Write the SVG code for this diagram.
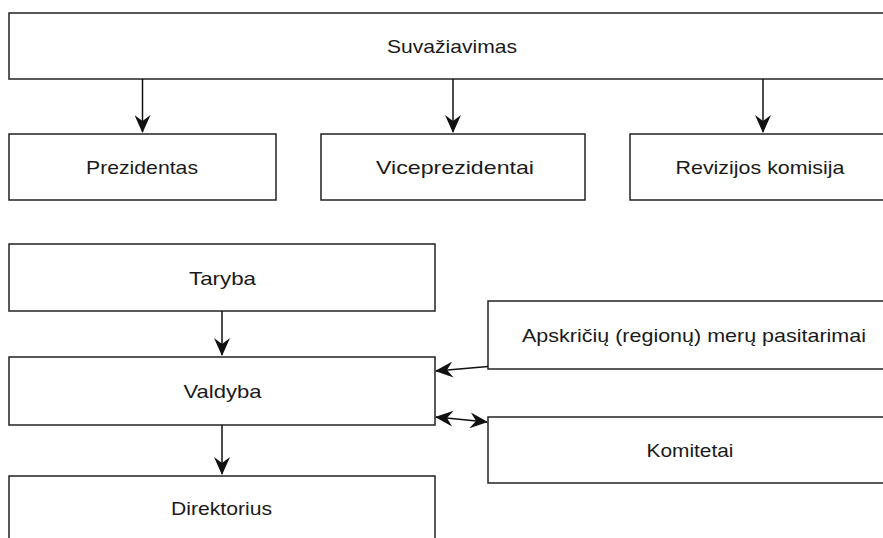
<svg xmlns="http://www.w3.org/2000/svg" width="883" height="538" viewBox="0 0 883 538">
<style>
.box{fill:#fff;stroke:#222;stroke-width:1.5}
.lbl{font-family:"Liberation Sans",Arial,sans-serif;font-size:19px;fill:#1a1a1a;text-anchor:middle}
.con{stroke:#111;stroke-width:1.5;fill:none}
</style>
<defs>
<marker id="arr" markerUnits="userSpaceOnUse" viewBox="0 0 18 16" markerWidth="18" markerHeight="16" refX="17" refY="8" orient="auto-start-reverse">
<path d="M0,0 L18,8 L0,16 L6,8 Z" fill="#111"/>
</marker>
</defs>
<rect width="883" height="538" fill="#fff"/>
<g id="suvaziavimas"><rect class="box" x="9" y="13" width="890" height="66"/><text class="lbl" x="452" y="53" textLength="130" lengthAdjust="spacingAndGlyphs">Suvažiavimas</text></g>
<g id="prezidentas"><rect class="box" x="9" y="134" width="267" height="66"/><text class="lbl" x="142" y="174" textLength="112" lengthAdjust="spacingAndGlyphs">Prezidentas</text></g>
<g id="viceprezidentai"><rect class="box" x="321" y="134" width="264" height="66"/><text class="lbl" x="455" y="174" textLength="158" lengthAdjust="spacingAndGlyphs">Viceprezidentai</text></g>
<g id="revizijos"><rect class="box" x="630" y="134" width="266" height="66"/><text class="lbl" x="760" y="174" textLength="169" lengthAdjust="spacingAndGlyphs">Revizijos komisija</text></g>
<g id="taryba"><rect class="box" x="9" y="244" width="426" height="67"/><text class="lbl" x="222.5" y="284.5" textLength="67" lengthAdjust="spacingAndGlyphs">Taryba</text></g>
<g id="valdyba"><rect class="box" x="9" y="357" width="426" height="68"/><text class="lbl" x="222.5" y="398" textLength="78" lengthAdjust="spacingAndGlyphs">Valdyba</text></g>
<g id="direktorius"><rect class="box" x="9" y="476" width="426" height="70"/><text class="lbl" x="221.5" y="515" textLength="101" lengthAdjust="spacingAndGlyphs">Direktorius</text></g>
<g id="apskriciu"><rect class="box" x="488" y="301" width="412" height="68"/><text class="lbl" x="694" y="342" textLength="344" lengthAdjust="spacingAndGlyphs">Apskričių (regionų) merų pasitarimai</text></g>
<g id="komitetai"><rect class="box" x="488" y="417" width="412" height="66"/><text class="lbl" x="690" y="457" textLength="87" lengthAdjust="spacingAndGlyphs">Komitetai</text></g>
<g id="connectors">
<path class="con" d="M142.5,79 V132" marker-end="url(#arr)"/>
<path class="con" d="M453,79 V132" marker-end="url(#arr)"/>
<path class="con" d="M763,79 V132" marker-end="url(#arr)"/>
<path class="con" d="M222,311 V355" marker-end="url(#arr)"/>
<path class="con" d="M222,425 V474" marker-end="url(#arr)"/>
<path class="con" d="M488,366.5 L436,371" marker-end="url(#arr)"/>
<path class="con" d="M436,417 L487,422" marker-start="url(#arr)" marker-end="url(#arr)"/>
</g>
</svg>
